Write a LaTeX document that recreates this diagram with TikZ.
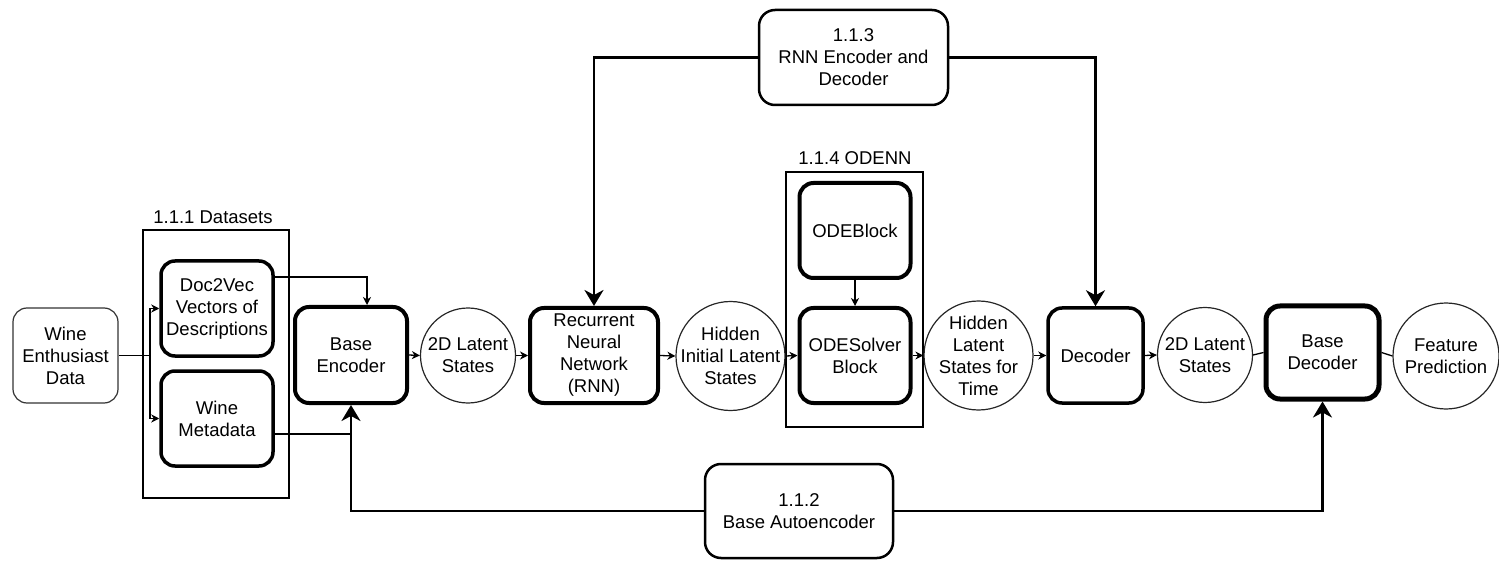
\documentclass[tikz,border=0pt]{standalone}
\usepackage{fontspec}
\setmainfont{Liberation Sans}
\usetikzlibrary{arrows.meta}

\begin{document}
\begin{tikzpicture}[x=1pt,y=-1pt,
  font=\fontsize{18.5}{22}\selectfont,
  blk/.style={draw=black, rounded corners=14pt, line width=#1, align=center,
    inner sep=0pt, minimum width=112pt, minimum height=95pt},
  blk/.default=3.5pt,
  circ/.style={draw=black!85, circle, line width=1.2pt, inner sep=0pt, minimum size=#1},
  grp/.style={draw=black, line width=2.6pt, inner sep=0pt},
  thinline/.style={line width=1.3pt},
  thinarrow/.style={line width=1.3pt, -{Stealth[length=8pt,width=8pt,inset=2.5pt]}},
  bigarrow/.style={line width=2.5pt, -{Stealth[length=16pt,width=19pt,inset=5pt]}}]

\useasboundingbox (0,0) rectangle (1499,561);

% group frames
\node[grp, minimum width=146pt, minimum height=268pt] (dsf) at (216,364) {};
\node (dslbl) at (213,217) {1.1.1 Datasets};
\node[grp, minimum width=137pt, minimum height=255pt] (odf) at (854.5,299.5) {};
\node (odlbl) at (855,158) {1.1.4 ODENN};

% blocks
\node[blk=1.2pt, draw=black!80, minimum width=105pt] (wine) at (65.5,355.5) {Wine\\Enthusiast\\Data};
\node[blk] (doc) at (217,308.5) {Doc2Vec\\Vectors of\\Descriptions};
\node[blk] (meta) at (217,418.5) {Wine\\Metadata};
\node[blk=4pt, minimum height=96pt] (enc) at (351,355) {Base\\Encoder};
\node[circ=95pt, label={[align=center]center:2D Latent\\States}] (lat1) at (468,355.5) {};
\node[blk=4pt, minimum width=128pt] (rnn) at (594,355.5) {Recurrent\\Neural\\Network\\(RNN)};
\node[circ=109pt, label={[align=center]center:Hidden\\Initial Latent\\States}] (hil) at (730.5,356) {};
\node[blk=4pt, minimum width=111pt] (odeb) at (855,230.5) {ODEBlock};
\node[blk=4pt, minimum width=111pt] (odes) at (855,355.5) {ODESolver\\Block};
\node[circ=109pt, label={[align=center]center:Hidden\\Latent\\States for\\Time}] (hlt) at (978.5,355.5) {};
\node[blk, minimum width=95pt] (dec) at (1095.5,355.5) {Decoder};
\node[circ=95pt, label={[align=center]center:2D Latent\\States}] (lat2) at (1205,355) {};
\node[blk=5pt, minimum width=113pt, minimum height=93pt] (bdec) at (1322.5,352.5) {Base\\Decoder};
\node[circ=106pt, label={[align=center]center:Feature\\Prediction}] (feat) at (1446,356) {};

\node[blk=2.5pt, rounded corners=16pt, minimum width=189pt] (rnnlbl) at (853.5,57.5) {1.1.3\\RNN Encoder and\\Decoder};
\node[blk=2.5pt, rounded corners=16pt, minimum width=188pt, minimum height=94pt] (aelbl) at (799,511) {1.1.2\\Base Autoencoder};

% data sources into the datasets
\coordinate (split) at (150,355.5);
\draw[thinline] (wine.east) -- (split);
\draw[thinarrow] (split) |- (doc.west);
\draw[thinarrow] (split) |- (meta.west);

% datasets into the base encoder
\draw[thinarrow] ([yshift=31.5pt]doc.east) -| ([xshift=16pt]enc.north);
\coordinate (mj) at ([yshift=-15.5pt]meta.east);
\draw[thinline] (mj) -- (mj -| enc.south);

% main pipeline
\draw[thinarrow] (enc.east) -- (lat1.west);
\draw[thinarrow] (lat1.east) -- (rnn.west);
\draw[thinarrow] (rnn.east) -- (hil.west);
\draw[thinarrow] (hil.east) -- (odes.west);
\draw[thinarrow] (odeb.south) -- (odes.north);
\draw[thinarrow] (odes.east) -- (hlt.west);
\draw[thinarrow] (hlt.east) -- (dec.west);
\draw[thinarrow] (dec.east) -- (lat2.west);
\draw[thinline] (lat2.east) -- (bdec.west);
\draw[thinline] (bdec.east) -- (feat.west);

% module links
\draw[bigarrow] (rnnlbl.west) -| (rnn.north);
\draw[bigarrow] (rnnlbl.east) -| (dec.north);
\draw[bigarrow] (aelbl.west) -| (enc.south);
\draw[bigarrow] (aelbl.east) -| (bdec.south);

\end{tikzpicture}
\end{document}
